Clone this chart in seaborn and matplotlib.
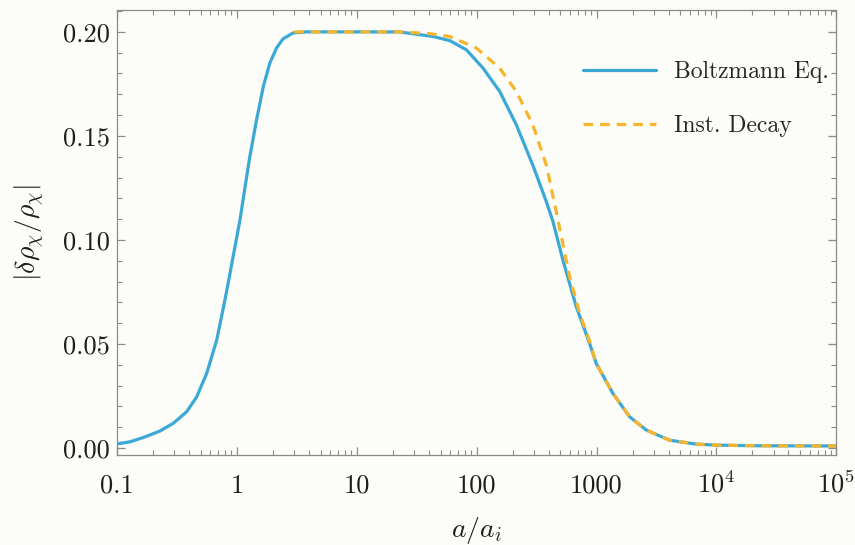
import matplotlib
matplotlib.use("Agg")
import matplotlib.pyplot as plt
import matplotlib.ticker as mticker
import pandas as pd
import seaborn as sns

# values
boltz_a = [0.1, 0.128, 0.166, 0.228, 0.294, 0.381, 0.462, 0.559, 0.678, 0.794,
           0.875, 1.06, 1.205, 1.28, 1.46, 1.66, 1.88, 2.14, 2.43, 2.94, 3.8,
           10, 22.8, 43.2, 59.6, 82, 113, 155.5, 214, 294, 381, 433, 524, 677,
           874, 994, 1206, 1368, 1884, 2595, 4055, 6760, 10000, 22900, 100000]
boltz_val = [0.0020, 0.0030, 0.0051, 0.0082, 0.0119, 0.0175, 0.0247, 0.0359,
             0.052, 0.0712, 0.084, 0.1097, 0.1305, 0.140, 0.158, 0.1738, 0.185,
             0.1923, 0.1967, 0.1995, 0.2, 0.2, 0.19995, 0.1978, 0.1958, 0.1914,
             0.1826, 0.1714, 0.1554, 0.136, 0.1185, 0.1089, 0.0904, 0.068,
             0.0504, 0.0407, 0.032, 0.0263, 0.0151, 0.0087, 0.0038, 0.0019,
             0.0014, 0.0011, 0.0010]

inst_a = [3.0, 10, 22.8, 40, 59.6, 99, 155.5, 214, 294, 381, 461, 596, 721,
          874, 994, 1206, 1368, 1884, 2595, 4055, 6760, 10000, 22900, 100000]
inst_val = [0.2, 0.2, 0.2, 0.1992, 0.1978, 0.1923, 0.1826, 0.1714, 0.1554,
            0.136, 0.1137, 0.0824, 0.065, 0.0515, 0.0407, 0.032, 0.0263,
            0.0151, 0.0087, 0.0038, 0.0019, 0.0014, 0.0011, 0.0010]

x_ticks = [0.1, 1, 10, 100, 1000, 1e4, 1e5]
x_tick_labels = ["0.1", "1", "10", "100", "1000", r"$10^4$", r"$10^5$"]
y_ticks = [0.0, 0.05, 0.10, 0.15, 0.20]

bg = "#fcfcf8"
blue = "#3ba8d6"
orange = "#f7b52c"

sns.set_style("ticks")
plt.rcParams['font.family'] = ['cmr10', 'DejaVu Serif']
plt.rcParams['mathtext.fontset'] = 'cm'
plt.rcParams['axes.formatter.use_mathtext'] = True

df = pd.concat([pd.DataFrame({'a': boltz_a, 'val': boltz_val, 'method': 'Boltzmann Eq.'}),
                pd.DataFrame({'a': inst_a, 'val': inst_val, 'method': 'Inst. Decay'})],
               ignore_index=True)

fig = plt.figure(figsize=(8.55, 5.45), dpi=100, facecolor=bg)
ax = fig.add_axes([0.137, 0.165, 0.841, 0.817], facecolor=bg)

sns.lineplot(ax=ax, data=df, x='a', y='val', hue='method', style='method',
             palette={'Boltzmann Eq.': blue, 'Inst. Decay': orange},
             dashes={'Boltzmann Eq.': '', 'Inst. Decay': (3, 2.2)},
             linewidth=2.3, estimator=None, sort=False)

ax.set_xscale('log')
ax.set_xlim(0.1, 1e5)
ax.set_ylim(-0.00337, 0.2106)

ax.set_xticks(x_ticks)
ax.set_xticklabels(x_tick_labels)
ax.xaxis.set_minor_locator(mticker.LogLocator(base=10, subs=range(2, 10), numticks=20))
ax.xaxis.set_minor_formatter(mticker.NullFormatter())
ax.set_yticks(y_ticks)
ax.set_yticklabels(["%.2f" % v for v in y_ticks])
ax.yaxis.set_minor_locator(mticker.MultipleLocator(0.01))

for s in ax.spines.values():
    s.set_visible(True)
    s.set_color('#8a8a8a')
    s.set_linewidth(0.9)

ax.tick_params(which='both', direction='in', top=True, right=True,
               color='#8a8a8a', labelcolor='#1e1e1e', labelsize=19)
ax.tick_params(which='major', length=6, width=0.9)
ax.tick_params(which='minor', length=3.5, width=0.8)
ax.tick_params(axis='y', pad=5)
ax.tick_params(axis='x', pad=27)
for lab in ax.get_xticklabels():
    lab.set_verticalalignment('baseline')

ax.set_xlabel(r"$a/a_i$", fontsize=20, color='#1e1e1e')
ax.set_ylabel(r"$|\delta\rho_\chi/\rho_\chi|$", fontsize=20, color='#1e1e1e')
ax.xaxis.set_label_coords(0.5, -0.135)
ax.yaxis.set_label_coords(-0.097, 0.5)

handles, labels = ax.get_legend_handles_labels()
ax.legend(handles, labels, loc='upper left', bbox_to_anchor=(0.648, 0.885),
          frameon=False, fontsize=17, handlelength=3.1, handletextpad=0.75,
          labelspacing=1.35, borderpad=0, borderaxespad=0)

fig.savefig("out.png", dpi=100, facecolor=bg)
